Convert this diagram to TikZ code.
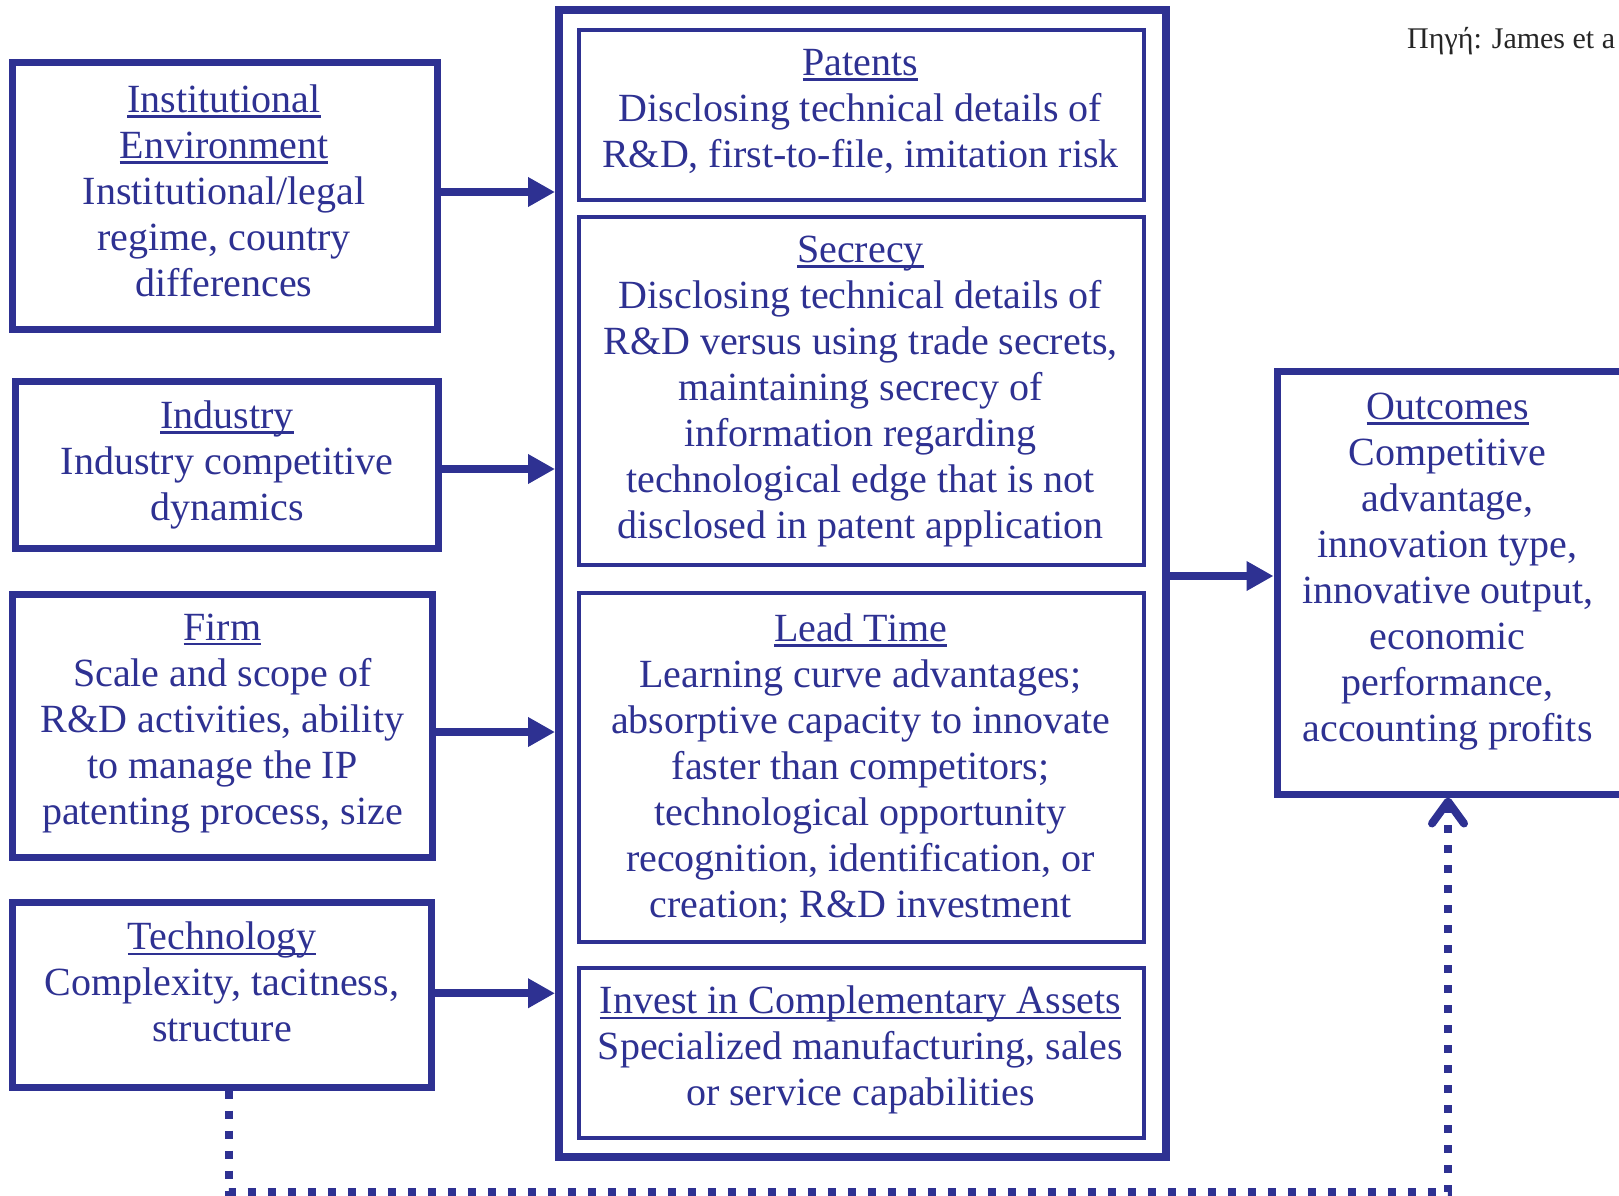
\documentclass[tikz,border=0pt]{standalone}
\usepackage{fontspec}
\setmainfont{Liberation Serif}
\usetikzlibrary{arrows.meta,calc}
\definecolor{navy}{RGB}{46,49,146}
\newcommand\ulin[1]{\setbox0=\hbox{#1}\rlap{\rule[-5.3pt]{\wd0}{2.6pt}}\box0}
\begin{document}
\begin{tikzpicture}[x=1pt,y=-1pt,
  lbox/.style={draw=navy,line width=7pt,inner sep=0pt},
  ibox/.style={draw=navy,line width=4pt,inner sep=0pt,minimum width=564.5pt},
  cbox/.style={draw=navy,line width=8pt,inner sep=0pt},
  txt/.style={align=center,inner sep=0pt,anchor=north,text=navy,font=\fontsize{40}{46}\selectfont},
  arr/.style={draw=navy,line width=8pt,-{Triangle[length=27pt,width=28pt]}},
  dotl/.style={draw=navy,line width=8pt,dash pattern=on 8pt off 12pt}]
\useasboundingbox (0,0) rectangle (1619,1196);
\clip (0,0) rectangle (1619,1196);
\fill[white] (0,0) rectangle (1619,1196);

% left boxes
\node[lbox,minimum width=425pt,minimum height=266pt] (inst) at (224.5,196) {};
\node[lbox,minimum width=423pt,minimum height=167pt] (ind) at (227,465) {};
\node[lbox,minimum width=420pt,minimum height=263pt] (firm) at (222,725.5) {};
\node[lbox,minimum width=419pt,minimum height=184.5pt] (tech) at (221.5,994.75) {};

% container and inner boxes
\node[cbox,minimum width=607pt,minimum height=1147pt] (cont) at (862.5,583.5) {};
\node[ibox,minimum height=170pt] (pat) at (861.25,115) {};
\node[ibox,minimum height=348pt] (sec) at (861.25,391) {};
\node[ibox,minimum height=349pt] (lead) at (861.25,767.5) {};
\node[ibox,minimum height=170pt] (inv) at (861.25,1053) {};

% outcomes
\node[lbox,minimum width=348pt,minimum height=423pt] (out) at (1451,582.5) {};

% texts
\node[txt] (t-inst) at (224,84.7) {\ulin{Institutional}\\\ulin{Environment}\\Institutional/legal\\regime, country\\differences};
\node[txt] (t-ind) at (227,400.7) {\ulin{Industry}\\Industry competitive\\dynamics};
\node[txt] (t-firm) at (222.5,613.4) {\ulin{Firm}\\Scale and scope of\\R\&D activities, ability\\to manage the IP\\patenting process, size};
\node[txt] (t-tech) at (222,922) {\ulin{Technology}\\Complexity, tacitness,\\structure};
\node[txt] (t-pat) at (860.5,49.4) {\ulin{Patents}\\Disclosing technical details of\\R\&D, first-to-file, imitation risk};
\node[txt] (t-sec) at (860.5,235.8) {\ulin{Secrecy}\\Disclosing technical details of\\R\&D versus using trade secrets,\\maintaining secrecy of\\information regarding\\technological edge that is not\\disclosed in patent application};
\node[txt] (t-lead) at (860.5,613.4) {\ulin{Lead Time}\\Learning curve advantages;\\absorptive capacity to innovate\\faster than competitors;\\technological opportunity\\recognition, identification, or\\creation; R\&D investment};
\node[txt] (t-inv) at (860.5,986) {\ulin{Invest in Complementary Assets}\\Specialized manufacturing, sales\\or service capabilities};
\node[txt] (t-out) at (1447.6,392.7) {\ulin{Outcomes}\\Competitive\\advantage,\\innovation type,\\innovative output,\\economic\\performance,\\accounting profits};

\node[anchor=base west,inner sep=0pt,font=\fontsize{30}{36}\selectfont,text=black!85] (src) at (1407,49) {Πηγή: James et a};

% arrows
\draw[arr] ([yshift=4pt]inst.east) -- ([yshift=4pt]inst.east -| cont.west);
\draw[arr] ([yshift=-4pt]ind.east) -- ([yshift=-4pt]ind.east -| cont.west);
\draw[arr] ([yshift=-6.5pt]firm.east) -- ([yshift=-6.5pt]firm.east -| cont.west);
\draw[arr] ([yshift=1.5pt]tech.east) -- ([yshift=1.5pt]tech.east -| cont.west);
\draw[arr] ([yshift=7.5pt]cont.east) -- ([yshift=7.5pt]cont.east -| out.west);

% dotted feedback
\coordinate (dl) at (229,1192);
\coordinate (dr) at (1448,1192);
\draw[dotl,-{Straight Barb[length=22pt,width=32pt,round]}] (tech.south -| dl) -- (dl) -- (dr) -- (out.south -| dr);
\end{tikzpicture}
\end{document}
